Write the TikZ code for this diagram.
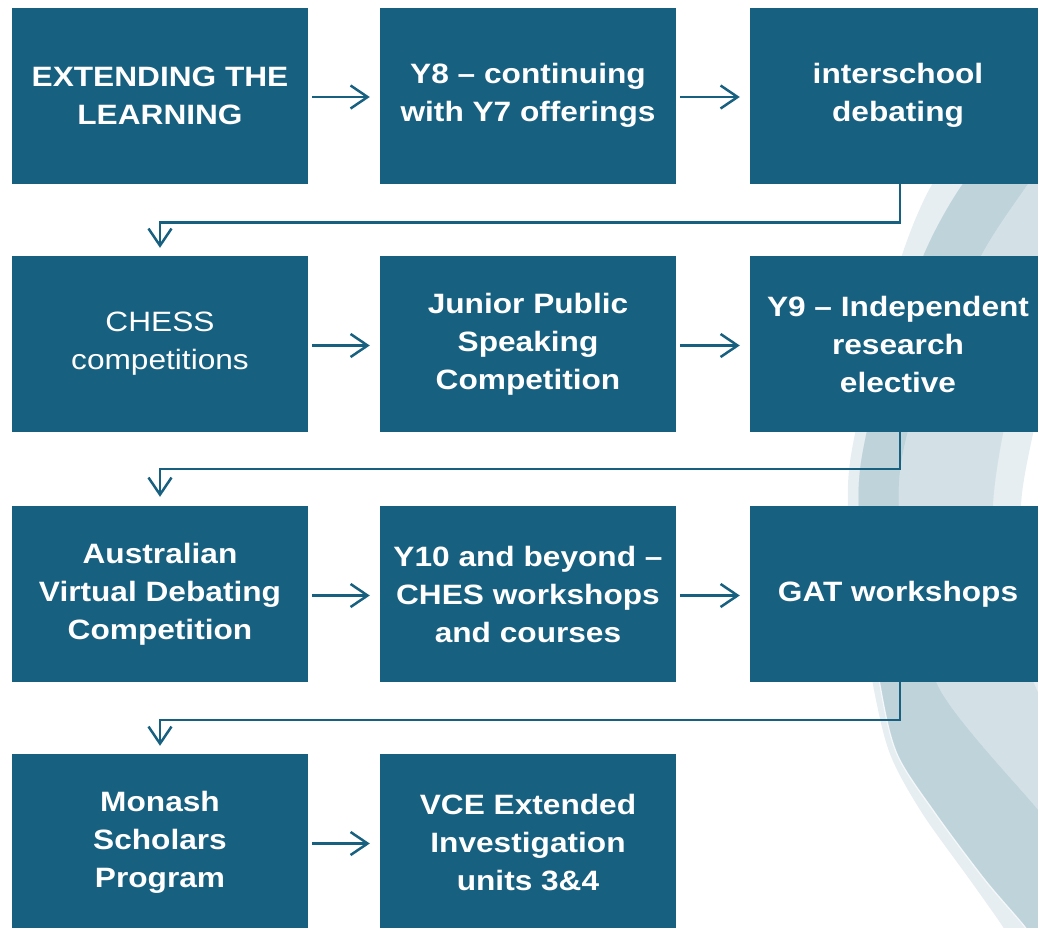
\documentclass[tikz,border=0pt]{standalone}
\usepackage{fontspec}
\setmainfont{Liberation Sans}[FakeStretch=1.13]
\usetikzlibrary{arrows.meta}
\definecolor{boxblue}{RGB}{23,96,128}
\definecolor{bglight}{RGB}{230,238,241}
\definecolor{bgmed}{RGB}{211,225,230}
\definecolor{bgdark}{RGB}{191,211,219}
\begin{document}
\begin{tikzpicture}[x=1pt,y=-1pt,
  box/.style={fill=boxblue, minimum width=296pt, minimum height=176pt, inner sep=0pt,
    text=white, align=center, font=\fontsize{28}{38}\selectfont\bfseries},
  plainbox/.style={box, font=\fontsize{28}{38}\selectfont\mdseries},
  arr/.style={draw=boxblue, line width=2.5pt,
    -{Straight Barb[length=17pt,width=23pt]}},
]
\useasboundingbox (0,0) rectangle (1038,927);
% background decoration
\begin{scope}
\clip (0,0) rectangle (1038,927);
\fill[bglight] plot[smooth] coordinates {(965,140)(930,188)(903,252)(872,360)(849,470)(852,560)(873,685)(890,754)(922,813)(970,880)(1003,927)(1012,945)}
  -- (1120,945) -- (1120,800)
  -- plot[smooth] coordinates {(1100,800)(1070,720)(1030,600)(1021,505)(1040,400)(1070,250)(1100,150)} -- cycle;
\fill[bgmed] plot[smooth] coordinates {(1000,140)(960,188)(925,252)(885,360)(860,470)(862,560)(880,685)(897,754)(935,813)(985,880)(1025,927)(1035,945)}
  -- (1120,945) -- (1120,800)
  -- plot[smooth] coordinates {(1080,800)(1050,720)(1000,600)(993,505)(1010,400)(1050,250)(1080,150)} -- cycle;
\fill[bgdark] plot[smooth] coordinates {(1000,140)(960,188)(925,252)(885,360)(860,470)(862,560)(880,685)(897,754)(935,813)(985,880)(1025,927)(1035,945)}
  -- (1120,945) -- (1120,850)
  -- plot[smooth] coordinates {(1070,850)(1038,810)(940,690)(905,570)(900,470)(930,360)(983,252)(1025,188)(1060,140)} -- cycle;
\draw[white, line width=1.2pt, opacity=0.8] plot[smooth] coordinates {(862,560)(880,685)(897,754)(935,813)(985,880)(1025,927)(1035,945)};
\end{scope}
% boxes
\node[box] (a1) at (160,95.5) {EXTENDING THE\\LEARNING};
\node[box] (a2) at (528,95.5) {Y8 – continuing\\with Y7 offerings};
\node[box] (a3) at (898,95.5) {interschool\\debating};
\node[plainbox] (b1) at (160,344) {CHESS\\competitions};
\node[box] (b2) at (528,344) {Junior Public\\Speaking\\Competition};
\node[box] (b3) at (898,344) {Y9 – Independent\\research\\elective};
\node[box] (c1) at (160,594) {Australian\\Virtual Debating\\Competition};
\node[box] (c2) at (528,594) {Y10 and beyond –\\CHES workshops\\and courses};
\node[box] (c3) at (898,594) {GAT workshops};
\node[box] (d1) at (160,842) {Monash\\Scholars\\Program};
\node[box] (d2) at (528,842) {VCE Extended\\Investigation\\units 3\&4};
% connectors
\foreach \s/\t in {a1/a2,a2/a3,b1/b2,b2/b3,c1/c2,c2/c3,d1/d2}
  \draw[arr, shorten <=4pt, shorten >=10pt] ([yshift=-1.5pt]\s.east) -- ([yshift=-1.5pt]\t.west);
\draw[arr, shorten >=8pt] ([xshift=2pt]a3.south) -- ++(0,39) -| (b1.north);
\draw[arr, shorten >=9pt] ([xshift=2pt]b3.south) -- ++(0,37) -| (c1.north);
\draw[arr, shorten >=8pt] ([xshift=2pt]c3.south) -- ++(0,38) -| (d1.north);
\end{tikzpicture}
\end{document}
